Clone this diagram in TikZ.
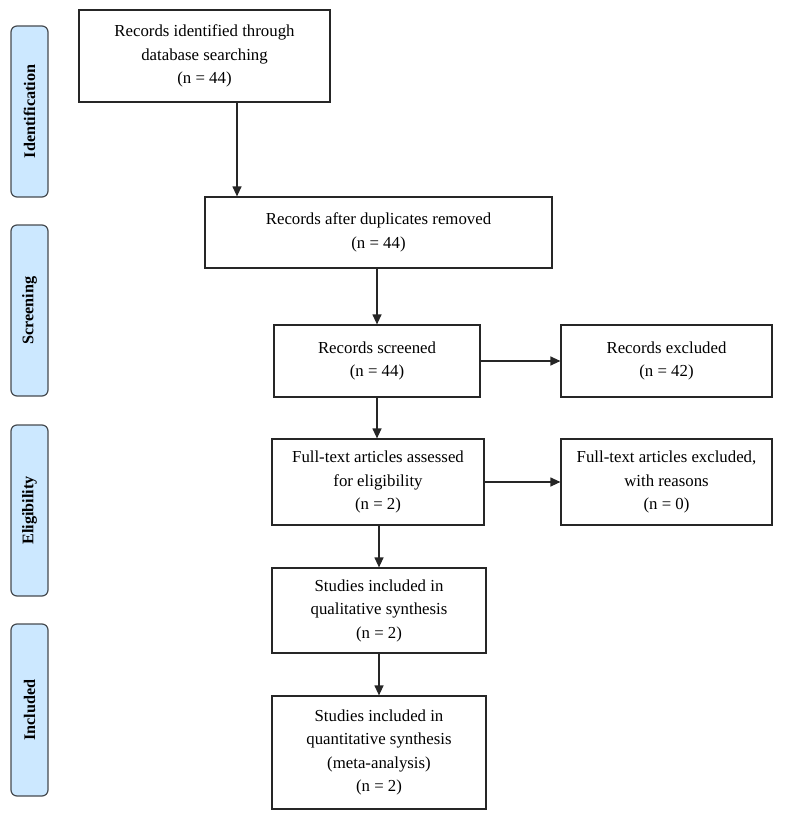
\documentclass[tikz,border=0pt]{standalone}
\usepackage{fontspec}
\setmainfont{Liberation Serif}
\usetikzlibrary{arrows.meta}
\definecolor{sidefill}{RGB}{204,232,255}
\definecolor{sideline}{RGB}{70,75,80}
\begin{document}
\begin{tikzpicture}[x=1pt,y=-1pt,
  box/.style={draw=black!85,line width=1.2pt,fill=white,align=center,inner sep=2pt,
    font=\fontsize{16.8}{23.5}\selectfont},
  side/.style={draw=sideline,line width=1.2pt,fill=sidefill,rounded corners=6pt,rotate=90,
    minimum height=37pt,inner sep=0pt,font=\fontsize{16.2}{18}\selectfont\bfseries},
  arr/.style={line width=1.2pt,draw=black!85,-{Triangle[length=10pt,width=9pt]}}]
\useasboundingbox (0,0) rectangle (789,821);
% side labels
\node[side,minimum width=171pt] (sid) at (29.5,111.5) {Identification};
\node[side,minimum width=171pt] (sscr) at (29.5,310.5) {Screening};
\node[side,minimum width=171pt] (selig) at (29.5,510.5) {Eligibility};
\node[side,minimum width=172pt] (sinc) at (29.5,710) {Included};
% boxes
\node[box,minimum width=251pt,minimum height=92pt] (b1) at (204.5,56)
  {Records identified through\\database searching\\(n = 44)};
\node[box,minimum width=347pt,minimum height=71pt] (b2) at (378.5,232.5)
  {Records after duplicates removed\\(n = 44)};
\node[box,minimum width=206pt,minimum height=72pt] (b3) at (377,361)
  {Records screened\\(n = 44)};
\node[box,minimum width=211pt,minimum height=72pt] (b4) at (666.5,361)
  {Records excluded\\(n = 42)};
\node[box,minimum width=212pt,minimum height=86pt] (b5) at (378,482)
  {Full-text articles assessed\\for eligibility\\(n = 2)};
\node[box,minimum width=211pt,minimum height=86pt] (b6) at (666.5,482)
  {Full-text articles excluded,\\with reasons\\(n = 0)};
\node[box,minimum width=214pt,minimum height=85pt] (b7) at (379,610.5)
  {Studies included in\\qualitative synthesis\\(n = 2)};
\node[box,minimum width=214pt,minimum height=113pt] (b8) at (379,752.5)
  {Studies included in\\quantitative synthesis\\(meta-analysis)\\(n = 2)};
% connectors
\coordinate (c1) at (237,0);
\draw[arr] (b1.south -| c1) -- (b2.north -| c1);
\draw[arr] (b2.south -| b3.north) -- (b3.north);
\draw[arr] (b3.east) -- (b4.west);
\draw[arr] (b3.south) -- (b5.north -| b3.south);
\draw[arr] (b5.east) -- (b6.west);
\draw[arr] (b5.south -| b7.north) -- (b7.north);
\draw[arr] (b7.south) -- (b8.north);
\end{tikzpicture}
\end{document}
